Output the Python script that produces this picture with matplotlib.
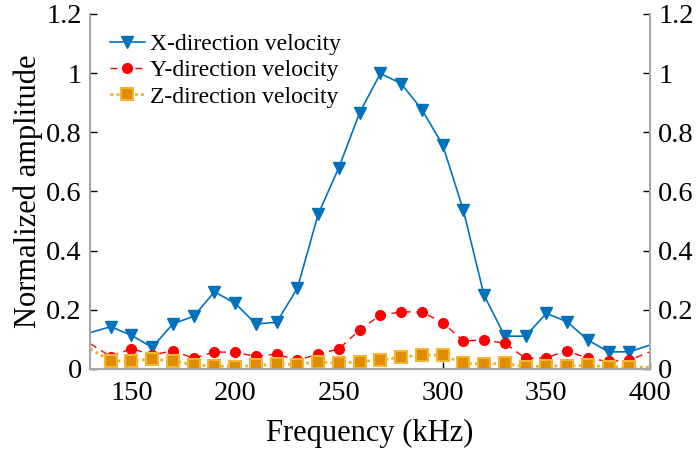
import numpy as np
import matplotlib.pyplot as plt

plt.rcParams['font.family'] = ['Liberation Serif', 'DejaVu Serif']

freq = [120, 140, 150, 160, 170, 180, 190, 200, 210, 220, 230, 240, 250, 260, 270,
        280, 290, 300, 310, 320, 330, 340, 350, 360, 370, 380, 390, 410]
vx = [0.103, 0.143, 0.114, 0.073, 0.153, 0.178, 0.261, 0.222, 0.152, 0.158, 0.273, 0.523, 0.681, 0.866, 0.999,
      0.965, 0.877, 0.758, 0.537, 0.249, 0.111, 0.111, 0.188, 0.160, 0.098, 0.058, 0.058, 0.104]
vy = [0.13, 0.042, 0.069, 0.047, 0.062, 0.036, 0.058, 0.056, 0.043, 0.050, 0.030, 0.050, 0.068, 0.132, 0.182,
      0.193, 0.193, 0.157, 0.095, 0.098, 0.087, 0.036, 0.038, 0.062, 0.036, 0.026, 0.030, 0.086]
vz = [0.11, 0.027, 0.028, 0.033, 0.028, 0.014, 0.010, 0.008, 0.012, 0.016, 0.015, 0.025, 0.019, 0.025, 0.030,
      0.040, 0.047, 0.047, 0.019, 0.017, 0.019, 0.008, 0.010, 0.010, 0.012, 0.008, 0.006, 0.006]
xticks = [150, 200, 250, 300, 350, 400]
yticks = [0, 0.2, 0.4, 0.6, 0.8, 1, 1.2]
ylabels = ['0', '0.2', '0.4', '0.6', '0.8', '1', '1.2']

fig = plt.figure(figsize=(6.96, 4.5), dpi=100)
ax = fig.add_axes([90/696, 81/450, 560/696, 355/450])

ax.plot(freq, vx, color='#0072BD', lw=1.2, marker='v', ms=8, label='X-direction velocity')
ax.plot(freq, vy, color='#FF0000', lw=1.0, ls=(0, (5, 4)), marker='o', ms=7, label='Y-direction velocity')
ax.plot(freq, vz, color='#EDB120', lw=2.0, ls=(0, (1, 1.2)), marker='s', ms=8,
        mfc='#DF8C00', mec='#F2B634', mew=1.5, label='Z-direction velocity')

ax.set_xlim(130, 400)
ax.set_ylim(0, 1.2)
ax.set_xticks(xticks)
ax.set_yticks(yticks)
ax.set_yticklabels(ylabels)
ax.tick_params(direction='in', length=5, width=1, colors='black', labelsize=20.5, pad=6)
ax.tick_params(axis='y', right=True, labelright=True)
ax.tick_params(axis='x', top=False, pad=9)

for s in ['left', 'right', 'bottom']:
    ax.spines[s].set_color('#a6a6a6')
    ax.spines[s].set_linewidth(1.5)
ax.spines['top'].set_visible(False)

ax.set_xlabel('Frequency (kHz)', fontsize=22, labelpad=9)
ax.set_ylabel('Normalized amplitude', fontsize=22, labelpad=2)

ax.legend(loc='upper left', frameon=False, fontsize=17, handlelength=1.5, handletextpad=0.2,
          labelspacing=0.2, borderaxespad=0.2, bbox_to_anchor=(0.01, 0.985))

fig.savefig('out.png', dpi=100)
